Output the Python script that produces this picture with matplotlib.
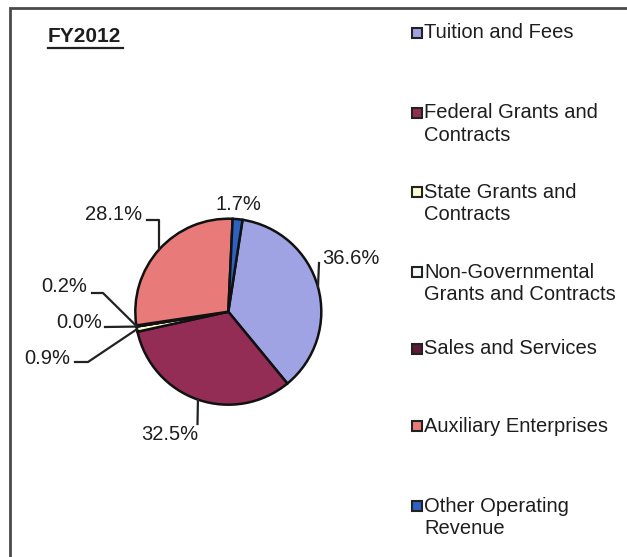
import matplotlib
matplotlib.use('Agg')
import matplotlib.pyplot as plt
import numpy as np

plt.rcParams['font.family'] = ['Liberation Sans', 'DejaVu Sans']

# FY2012 operating revenue shares (percent)
categories = ['Tuition and Fees',
              'Federal Grants and\nContracts',
              'State Grants and\nContracts',
              'Non-Governmental\nGrants and Contracts',
              'Sales and Services',
              'Auxiliary Enterprises',
              'Other Operating\nRevenue']
shares = [36.6, 32.5, 0.9, 0.0, 0.2, 28.1, 1.7]
colors = ['#a0a3e3', '#932d55', '#fdfdd0', '#f4fbfb', '#5c1a36', '#e97a7a', '#2d62c0']
title = 'FY2012'

W, H = 627, 557
fig = plt.figure(figsize=(W / 100, H / 100), dpi=100)
ax = fig.add_axes([0, 0, 1, 1])

def Y(y):
    # image-style y (from top) to axes y
    return H - y

FS = 14.5
TXT = '#1e1e1e'

# pie
cx, cy, r = 228.3, Y(311.7), 93
wedges, _ = ax.pie(shares, colors=colors, startangle=81.2, counterclock=False,
                   center=(cx, cy), radius=r, frame=True,
                   wedgeprops=dict(edgecolor='#111111', linewidth=1.8))
ax.set_xlim(0, W)
ax.set_ylim(0, H)
ax.set_aspect('equal')
ax.axis('off')

# frame (right and bottom edges fall outside the figure)
ax.plot([10, 10, W + 5], [Y(H + 5), Y(8), Y(8)], color='#4a4a4a', lw=2,
        solid_joinstyle='miter')

# title with underline
ax.text(48, Y(37), title, fontsize=15, fontweight='bold', ha='left', va='center',
        color=TXT)
ax.plot([48, 123], [Y(48), Y(48)], color='#222222', lw=1.6)

def edge_point(w):
    a = np.deg2rad((w.theta1 + w.theta2) / 2)
    return cx + r * np.cos(a), cy + r * np.sin(a)

# data labels: text position, alignment and leader path (None = no leader)
label_pos = [(322, 259, 'left'), (170, 435, 'center'), (70, 358, 'right'),
             (102, 323, 'right'), (87, 287, 'right'), (142, 215, 'right'),
             (238, 205, 'center')]
leader_start = [(319, 263), (197.5, 424), (75, 362), (105, 327), (92, 293),
                (147, 220), None]
leader_elbow = [None, None, (88, 362), None, (103, 293), 'edge_x', None]

for i, (w, v) in enumerate(zip(wedges, shares)):
    tx, ty, ha = label_pos[i]
    ax.text(tx, Y(ty), f'{v:.1f}%', fontsize=FS, ha=ha, va='center', color=TXT)
    if leader_start[i] is None:
        continue
    ex, ey = edge_point(w)
    sx, sy = leader_start[i]
    xs, ys = [sx], [Y(sy)]
    el = leader_elbow[i]
    if el == 'edge_x':
        xs.append(ex)
        ys.append(Y(sy))
    elif el is not None:
        xs.append(el[0])
        ys.append(Y(el[1]))
    xs.append(ex)
    ys.append(ey)
    ax.plot(xs, ys, color='#222222', lw=1.6)

# legend drawn entry by entry
legend_y = [33, 113, 192, 272, 349, 426, 506]
for name, col, ly in zip(categories, colors, legend_y):
    ax.add_patch(plt.Rectangle((411.5, Y(ly) - 5), 10, 10, facecolor=col,
                               edgecolor='#222222', lw=1.5))
    for k, line in enumerate(name.split('\n')):
        ax.text(424, Y(ly + 22.5 * k), line, fontsize=FS, ha='left', va='center',
                color=TXT)

fig.savefig('out.png', dpi=100, facecolor='white')
